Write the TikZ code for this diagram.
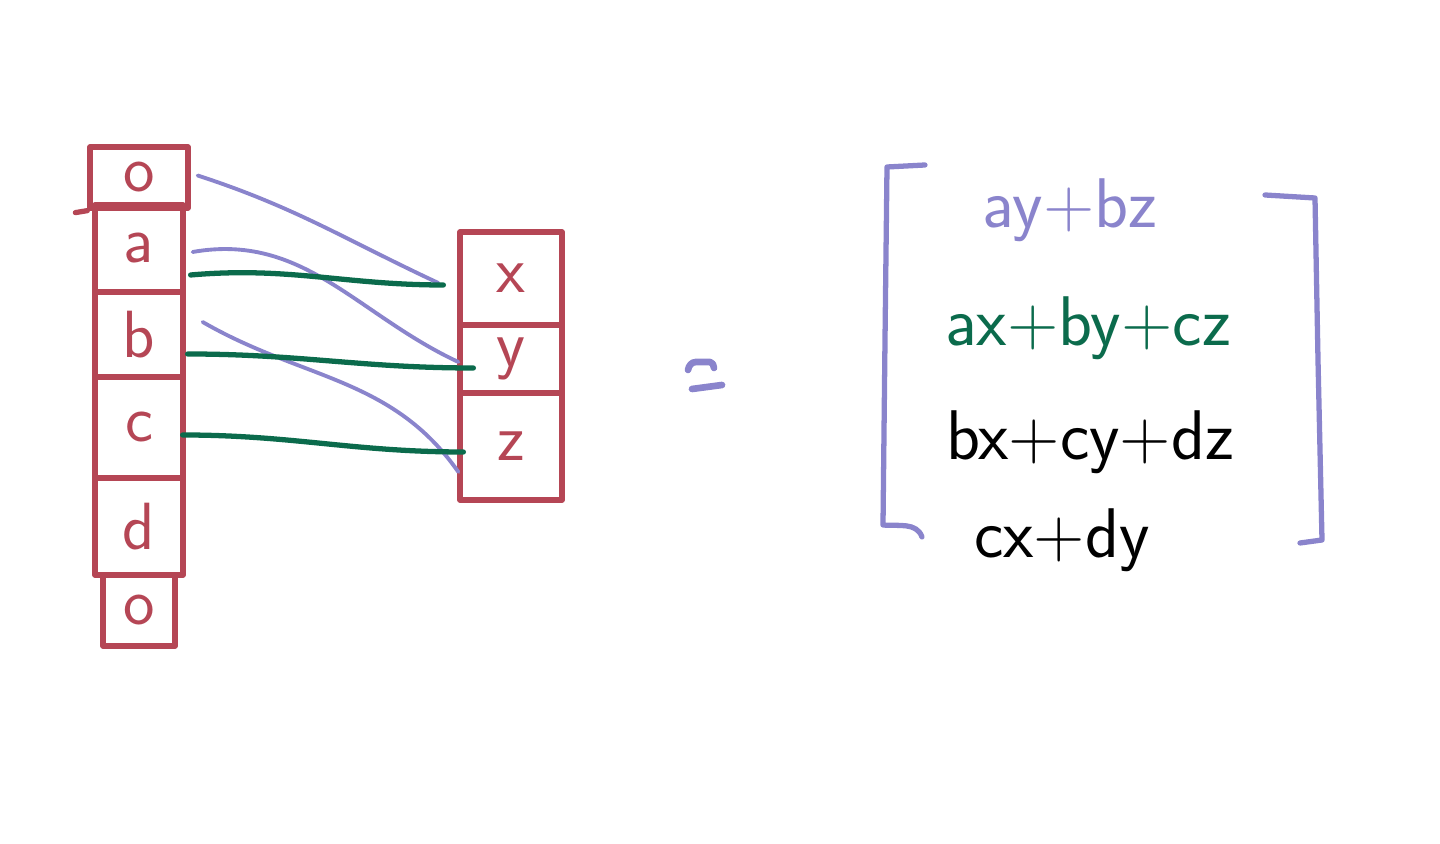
\documentclass[tikz,border=0pt]{standalone}
\usetikzlibrary{positioning, calc}
\definecolor{cred}{HTML}{B54655}
\definecolor{cpurple}{HTML}{8A84CC}
\definecolor{cgreen}{HTML}{0B6B4C}
\tikzset{
  every picture/.style={font=\sffamily, line width=1.5pt, line cap=round, line join=round},
  cell/.style={draw=cred, text=cred, inner sep=0pt, font=\sffamily\fontsize{19}{22}\selectfont},
  link/.style={draw=#1, line width=1.1pt},
  link/.default=cpurple,
  entry/.style={text=#1, inner sep=0pt, font=\sffamily\fontsize{20}{24}\selectfont},
  entry/.default=black,
  brack/.style={draw=cpurple, line width=1.5pt},
}

\begin{document}
\begin{tikzpicture}
  \useasboundingbox (0,0) rectangle (14.4,-8.44);
  % left column: padded vector
  \foreach \t/\y/\h/\w [count=\i] in {o/-1.775/0.61/0.98, a/-2.485/0.87/0.88, b/-3.345/0.85/0.88,
                                      c/-4.275/1.01/0.88, d/-5.265/0.97/0.88, o/-6.105/0.71/0.72} {
    \node[cell, minimum width=\w cm, minimum height=\h cm] (l\i) at (1.39,\y) {\t};
  }
  \draw[cred] ([xshift=-0.12cm,yshift=-0.02cm]l1.south west) -- (l1.south west);
  % right column
  \foreach \t/\y/\h [count=\i] in {x/-2.785/0.93, y/-3.59/0.68, z/-4.465/1.07} {
    \node[cell, minimum width=1.02cm, minimum height=\h cm] (v\i) at (5.11,\y) {\t};
  }
  % connectors
  \draw[link] ([xshift=0.07cm,yshift=0.02cm]l1.east) to[out=-18,in=155] ([xshift=-0.19cm,yshift=-0.045cm]v1.west);
  \draw[link] ([xshift=0.07cm,yshift=-0.035cm]l2.east) to[out=10,in=155] ([xshift=0.01cm,yshift=-0.03cm]v2.west);
  \draw[link] ([xshift=0.17cm,yshift=0.125cm]l3.east) to[out=-30,in=125] ([xshift=0.01cm,yshift=-0.255cm]v3.west);
  \draw[link=cgreen, line width=1.5pt] ([xshift=0.05cm,yshift=-0.265cm]l2.east) to[out=5,in=180] ([xshift=-0.14cm,yshift=-0.065cm]v1.west);
  \draw[link=cgreen, line width=1.5pt] ([xshift=0.02cm,yshift=-0.195cm]l3.east) to[out=0,in=180] ([xshift=0.16cm,yshift=-0.09cm]v2.west);
  \draw[link=cgreen, line width=1.5pt] ([xshift=-0.03cm,yshift=-0.075cm]l4.east) to[out=0,in=180] ([xshift=0.06cm,yshift=-0.055cm]v3.west);
  % equals
  \draw[brack, line width=1.9pt] (6.88,-3.70) to[out=80,in=180] (6.96,-3.62) -- (7.10,-3.62) to[out=0,in=100] (7.14,-3.68);
  \draw[brack, line width=1.9pt] (6.92,-3.89) -- (7.22,-3.85);
  % result vector
  \draw[brack] (9.25,-1.65) -- (8.87,-1.67) -- (8.85,-3.40) -- (8.83,-5.25) to[out=-5,in=110] (9.22,-5.37);
  \draw[brack] (12.65,-1.95) -- (13.15,-1.98) -- (13.18,-3.60) -- (13.22,-5.40) -- (13.00,-5.43);
  \node[entry=cpurple] (row1) at (10.70,-2.10) {ay+bz};
  \node[entry=cgreen] (row2) at (10.88,-3.28) {ax+by+cz};
  \node[entry] (row3) at (10.90,-4.42) {bx+cy+dz};
  \node[entry] (row4) at (10.62,-5.40) {cx+dy};
\end{tikzpicture}
\end{document}
